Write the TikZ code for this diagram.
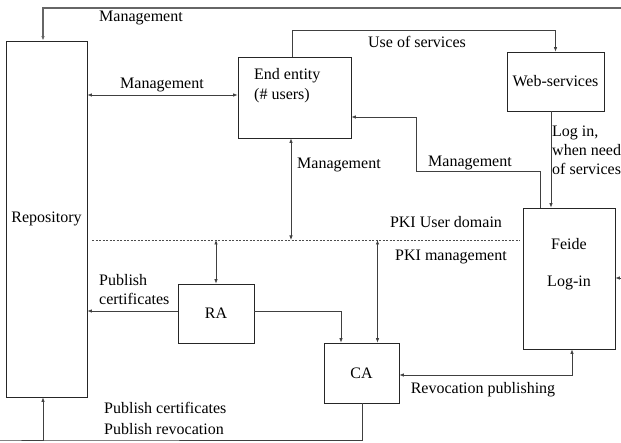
\documentclass[tikz,border=0pt]{standalone}
\usepackage{fontspec}
\setmainfont{Liberation Serif}
\usetikzlibrary{arrows.meta,calc}
\begin{document}
\begin{tikzpicture}[x=1pt,y=-1pt,
  font=\fontsize{16}{19}\selectfont,
  box/.style={draw=black!85,line width=0.8pt,rectangle,inner sep=0pt},
  txt/.style={inner sep=0pt,align=left},
  link/.style={draw=black!75,line width=0.7pt},
  arr/.style={link,-{Latex[length=4.5pt,width=3.5pt]}},
  darr/.style={link,{Latex[length=4.5pt,width=3.5pt]}-{Latex[length=4.5pt,width=3.5pt]}},
  domainline/.style={draw=black!70,line width=0.8pt,dash pattern=on 2pt off 1.5pt}]
\useasboundingbox (0,0) rectangle (621,443);

% boxes
\node[box,minimum width=81pt,minimum height=356pt] (repo) at (46.5,219) {Repository};
\node[box,minimum width=113pt,minimum height=81pt] (ee) at (294.5,97.5) {};
\node[box,minimum width=97pt,minimum height=59pt] (ws) at (555.5,81.5) {Web-services};
\node[box,minimum width=92pt,minimum height=141pt] (feide) at (569,278.5) {};
\node[box,minimum width=76pt,minimum height=59pt] (ra) at (216,313.5) {RA};
\node[box,minimum width=75pt,minimum height=60pt] (ca) at (361.5,373) {CA};

% texts inside boxes
\node[txt,anchor=north west,font=\fontsize{16}{20.5}\selectfont] (eetext) at (254,68) {End entity\\(\# users)};
\node[txt] (feidetext) at (569,244) {Feide};
\node[txt] (logintext) at (569,283) {Log-in};

% helper points
\coordinate (topR) at (621,8);
\coordinate (yUse) at (0,30);
\coordinate (yMg) at (0,95);
\coordinate (m1) at (416,171);
\coordinate (dashL) at (92,240);
\coordinate (dashR) at (520,240);
\coordinate (yPub) at (0,311);
\coordinate (yBot) at (0,440);
\coordinate (rEdge) at (621,278);

% domain boundary
\draw[domainline] (dashL) -- (dashR);

% connectors
\draw[arr,line width=1.1pt,draw=black!60] (topR) -| ([xshift=-3.5pt]repo.north);
\draw[darr] (repo.east |- yMg) -- (ee.west |- yMg);
\draw[arr] ([xshift=-2.5pt]ee.north) |- (ws.north |- yUse) -- (ws.north);
\draw[arr] ([xshift=-4.5pt]ws.south) -- ([xshift=-4.5pt]ws.south |- feide.north);
\draw[arr] ([xshift=-29pt]feide.north) |- (m1) |- ([yshift=-19.5pt]ee.east);
\draw[darr] ([xshift=-3.5pt]ee.south) -- ([xshift=-3.5pt]ee.south |- dashL);
\draw[darr] (ra.north) -- (ra.north |- dashL);
\draw[arr] (ra.west |- yPub) -- (repo.east |- yPub);
\draw[arr] (ra.east |- yPub) -| ([xshift=-20.5pt]ca.north);
\draw[darr] ([xshift=16pt]ca.north) -- ([xshift=16pt]ca.north |- dashL);
\draw[darr] ([yshift=-2pt]ca.east) -| ([xshift=3pt]feide.south);
\draw[arr] ([xshift=0.5pt]ca.south) |- (yBot) -| ([xshift=-3.5pt]repo.south);
\draw[arr] (rEdge) -- (feide.east |- rEdge);

% connector labels
\node[txt] (lTop) at (141,18) {Management};
\node[txt] (lRepoEE) at (162,85) {Management};
\node[txt] (lUse) at (417,42) {Use of services};
\node[txt,anchor=north west] (lLogin) at (552,126) {Log in,\\when need\\of services};
\node[txt] (lFeideEE) at (470,163) {Management};
\node[txt,anchor=west] (lEEdown) at (297,165) {Management};
\node[txt] (lUser) at (446,222) {PKI User domain};
\node[txt] (lPki) at (451,257) {PKI management};
\node[txt,anchor=north west] (lPubRA) at (99,274) {Publish\\certificates};
\node[txt] (lRev) at (483,390) {Revocation publishing};
\node[txt,anchor=north west,font=\fontsize{16}{21}\selectfont] (lPubCA) at (104,402) {Publish certificates\\Publish revocation};
\end{tikzpicture}
\end{document}
